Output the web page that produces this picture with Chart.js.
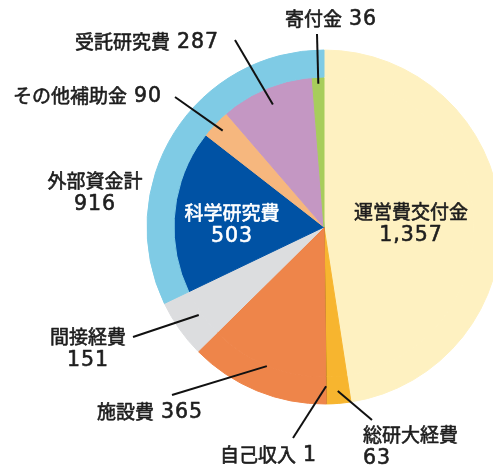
<!DOCTYPE html>
<html lang="ja">
<head>
<meta charset="utf-8">
<title>財源内訳</title>
<script src="https://cdn.jsdelivr.net/npm/chart.js@4.4.1/dist/chart.umd.min.js"></script>
<style>
    html, body { margin: 0; padding: 0; background: #fff; overflow: hidden; }
    #budgetChart { display: block; }
</style>
</head>
<body>
<canvas id="budgetChart" width="520" height="470"></canvas>
<script>
// Inner pie: every budget item
const categories = ['運営費交付金', '総研大経費', '自己収入', '施設費', '間接経費', '科学研究費', 'その他補助金', '受託研究費', '寄付金'];
const amounts = [1357, 63, 1, 365, 151, 503, 90, 287, 36];
const colors = ['#fef1c1', '#f7b52f', '#b8861c', '#ee854a', '#dcdddf', '#0052a4', '#f6b77e', '#c497c3', '#a7cd5b'];

// Outer ring: external funds grouped into one total
const outerCategories = ['運営費交付金', '総研大経費', '自己収入', '施設費', '間接経費', '外部資金計'];
const outerAmounts = [1357, 63, 1, 365, 151, 916];
const outerColors = ['#fef1c1', '#f7b52f', '#b8861c', '#ee854a', '#dcdddf', '#7fcbe5'];

const NAME_FONT = '"Noto Sans CJK JP", sans-serif';
const NUM_FONT = '"DejaVu Sans", sans-serif';
const TEXT_COLOR = '#1e1e1e';

// Where each label sits; lineR is where the leader line meets the slice (fraction of radius)
const labelLayout = [
    { ring: 1, index: 0, x: 411, y: 212, align: 'center', stacked: true },
    { ring: 1, index: 1, x: 363, y: 435, align: 'left', stacked: true, lineFrom: [372, 420], lineR: 0.93 },
    { ring: 1, index: 2, x: 220, y: 455, align: 'left', lineFrom: [293, 438], lineR: 0.9 },
    { ring: 1, index: 3, x: 97, y: 412, align: 'left', lineFrom: [172, 395], lineR: 0.85 },
    { ring: 1, index: 4, x: 88, y: 337, align: 'center', stacked: true, lineFrom: [133, 337], lineR: 0.865 },
    { ring: 1, index: 5, x: 232, y: 213, align: 'center', stacked: true, color: '#ffffff' },
    { ring: 1, index: 6, x: 13, y: 96, align: 'left', lineFrom: [175, 97], lineR: 0.79 },
    { ring: 1, index: 7, x: 75, y: 42, align: 'left', lineFrom: [235, 40], lineR: 0.75 },
    { ring: 1, index: 8, x: 285, y: 19, align: 'left', lineFrom: [317, 34], lineR: 0.81 },
    { ring: 0, index: 5, x: 95, y: 181, align: 'center', stacked: true }
];

function formatAmount(value) {
    return value.toLocaleString('en-US');
}

function setNameFont(ctx) {
    ctx.font = `19px ${NAME_FONT}`;
    ctx.letterSpacing = '0px';
}

function setNumFont(ctx) {
    ctx.font = `20.5px ${NUM_FONT}`;
    ctx.letterSpacing = '1px';
}

// fill plus a thin stroke of the same colour, for a slightly heavier face
function heavyText(ctx, text, x, y) {
    ctx.fillText(text, x, y);
    ctx.strokeText(text, x, y);
}

function drawLabel(ctx, item, name, value) {
    const num = formatAmount(value);
    ctx.fillStyle = item.color || TEXT_COLOR;
    ctx.strokeStyle = item.color || TEXT_COLOR;
    ctx.lineWidth = 0.6;
    ctx.lineJoin = 'round';
    ctx.textBaseline = 'middle';

    if (item.stacked) {
        ctx.textAlign = item.align;
        setNameFont(ctx);
        heavyText(ctx, name, item.x, item.y);
        setNumFont(ctx);
        heavyText(ctx, num, item.x, item.y + 24);
        return;
    }

    // single line: name, gap, number
    const gap = 7;
    setNameFont(ctx);
    const nameWidth = ctx.measureText(name).width;
    setNumFont(ctx);
    const numWidth = ctx.measureText(num).width;
    let left = item.x;
    if (item.align === 'center') left = item.x - (nameWidth + gap + numWidth) / 2;

    ctx.textAlign = 'left';
    setNameFont(ctx);
    heavyText(ctx, name, left, item.y);
    setNumFont(ctx);
    heavyText(ctx, num, left + nameWidth + gap, item.y + 1);
}

const labelPlugin = {
    id: 'budgetLabels',
    afterDraw(chart) {
        const ctx = chart.ctx;
        const fullRadius = chart.getDatasetMeta(0).data[0].outerRadius;
        ctx.save();

        labelLayout.forEach(item => {
            const arc = chart.getDatasetMeta(item.ring).data[item.index];
            if (item.lineFrom) {
                const mid = (arc.startAngle + arc.endAngle) / 2;
                const r = fullRadius * item.lineR;
                ctx.beginPath();
                ctx.moveTo(item.lineFrom[0], item.lineFrom[1]);
                ctx.lineTo(arc.x + Math.cos(mid) * r, arc.y + Math.sin(mid) * r);
                ctx.strokeStyle = '#111';
                ctx.lineWidth = 2;
                ctx.stroke();
            }
            const names = item.ring === 0 ? outerCategories : categories;
            const values = item.ring === 0 ? outerAmounts : amounts;
            drawLabel(ctx, item, names[item.index], values[item.index]);
        });

        ctx.restore();
    }
};

new Chart(document.getElementById('budgetChart'), {
    type: 'pie',
    data: {
        labels: categories,
        datasets: [
            {
                label: '外部資金',
                data: outerAmounts,
                backgroundColor: outerColors,
                borderColor: outerColors,
                borderWidth: 1,
                weight: 27
            },
            {
                label: '財源',
                data: amounts,
                backgroundColor: colors,
                borderColor: colors,
                borderWidth: 1,
                weight: 150
            }
        ]
    },
    options: {
        responsive: false,
        animation: false,
        radius: 177,
        layout: {
            padding: { left: 128, right: 0, top: 0, bottom: 16 }
        },
        plugins: {
            legend: { display: false },
            tooltip: { enabled: false }
        }
    },
    plugins: [labelPlugin]
});
</script>
</body>
</html>
